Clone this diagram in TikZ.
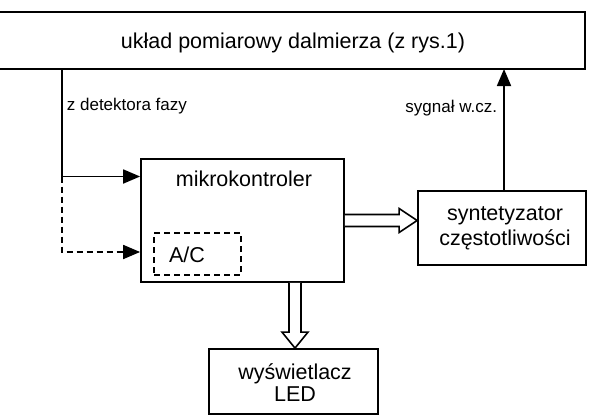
\documentclass[tikz,border=0pt]{standalone}
\usepackage{fontspec}
\setmainfont{Liberation Sans}
\usetikzlibrary{arrows.meta,calc}
\begin{document}
\begin{tikzpicture}[x=1pt,y=-1pt,
  line width=1.8pt,
  block/.style={draw,rectangle,inner sep=0pt},
  txt/.style={font=\fontsize{21.5}{23}\selectfont,anchor=base,inner sep=0pt},
  small/.style={font=\fontsize{17}{19}\selectfont,anchor=base,inner sep=0pt},
  sig/.style={-{Triangle[length=17pt,width=14pt]}},
  dashline/.style={dash pattern=on 6pt off 4pt},
  hollow/.style={draw,fill=white,line width=1.6pt,line join=miter}]
\useasboundingbox (0,0) rectangle (590,418);

% measuring unit (open on the left side)
\draw (0,12) -- (585,12) -- (585,69) -- (0,69);
\node[txt] (meas) at (293,48) {układ pomiarowy dalmierza (z rys.1)};
\coordinate (phaseout) at (62,69);
\coordinate (rfin) at (504,69);

% blocks
\node[block,minimum width=203pt,minimum height=123pt] (mk) at (242.5,220.5) {};
\node[txt] (mklabel) at (244,186) {mikrokontroler};
\node[block,dashline,minimum width=87pt,minimum height=42pt] (ac) at (197.5,254) {};
\node[txt] (aclabel) at (187,262) {A/C};
\node[block,minimum width=168pt,minimum height=74pt] (syn) at (502,228) {};
\node[txt] (synl1) at (505,220) {syntetyzator};
\node[txt] (synl2) at (505,245.5) {częstotliwości};
\node[block,minimum width=169pt,minimum height=65pt] (led) at (293.5,381.5) {};
\node[txt] (ledl1) at (295,379) {wyświetlacz};
\node[txt] (ledl2) at (295,401.5) {LED};

% labels
\node[small,anchor=base west] (phaselbl) at (66,110) {z detektora fazy};
\node[small,anchor=base east] (rflbl) at (498,112) {sygnał w.cz.};

% phase detector signal to the microcontroller
\coordinate (split) at (phaseout |- 0,176.5);
\draw[sig] (phaseout) -- (split) -- (split -| mk.west);
\draw[sig,dashline] (split) -- (phaseout |- 0,252) -- (mk.west |- 0,252);

% RF signal back to the measuring unit
\draw[sig] (syn.north -| rfin) -- (rfin);

% data bus: microcontroller -> synthesizer
\coordinate (rtip) at (syn.west |- mk.east);
\draw[hollow] ($(mk.east)+(0,-6)$) -- ($(rtip)+(-18,-6)$) -- ($(rtip)+(-18,-12)$)
  -- (rtip) -- ($(rtip)+(-18,12)$) -- ($(rtip)+(-18,6)$) -- ($(mk.east)+(0,6)$);

% data bus: microcontroller -> display
\coordinate (dtip) at ($(led.north)+(1.5,0)$);
\draw[hollow] ($(mk.south -| dtip)+(-6,0)$) -- ($(dtip)+(-6,-16)$) -- ($(dtip)+(-13,-16)$)
  -- (dtip) -- ($(dtip)+(13,-16)$) -- ($(dtip)+(6,-16)$) -- ($(mk.south -| dtip)+(6,0)$);
\end{tikzpicture}
\end{document}
